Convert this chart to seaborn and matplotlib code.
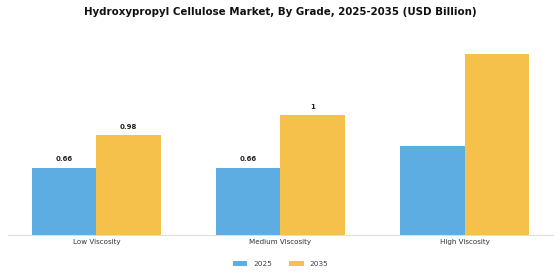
import matplotlib
matplotlib.use("Agg")
import matplotlib.pyplot as plt
import pandas as pd
import seaborn as sns

grades = ["Low Viscosity", "Medium Viscosity", "High Viscosity"]
years = ["2025", "2035"]
values_2025 = [0.66, 0.66, 0.88]
values_2035 = [0.98, 1.18, 1.78]
labels_2025 = ["0.66", "0.66", ""]
labels_2035 = ["0.98", "1", ""]
colors = ["#5DADE2", "#F5C14B"]

df = pd.DataFrame({
    "Grade": grades * 2,
    "Year": [years[0]] * 3 + [years[1]] * 3,
    "Value": values_2025 + values_2035,
})

sns.set_style("white")
fig = plt.figure(figsize=(5.6, 2.8), dpi=100)
ax = fig.add_axes([8 / 560, 45 / 280, 545 / 560, 198 / 280])

sns.barplot(data=df, x="Grade", y="Value", hue="Year", order=grades,
            hue_order=years, palette=colors, width=0.7, saturation=1,
            linewidth=0, ax=ax, legend=True)

for container, labels in zip(ax.containers, [labels_2025, labels_2035]):
    ax.bar_label(container, labels=labels, padding=4, fontsize=5,
                 fontweight="bold", color="#222222")

ax.set_xlim(-0.48, 2.48)
ax.set_ylim(0, 1.95)
ax.set_xlabel("")
ax.set_ylabel("")
ax.set_yticks([])
for side in ["top", "right", "left"]:
    ax.spines[side].set_visible(False)
ax.spines["bottom"].set_color("#dddddd")
ax.tick_params(axis="x", length=0, pad=3, labelsize=5.1, labelcolor="#333333")

fig.suptitle("Hydroxypropyl Cellulose Market, By Grade, 2025-2035 (USD Billion)",
             fontsize=7.4, fontweight="bold", y=0.975, color="#111111")

ax.legend(loc="upper center", bbox_to_anchor=(0.5, -0.1), ncol=2,
          frameon=False, fontsize=5.3, handlelength=2.0, handleheight=0.6,
          handletextpad=0.8, columnspacing=2.3, labelcolor="#444444")

fig.savefig("out.png", dpi=100)
